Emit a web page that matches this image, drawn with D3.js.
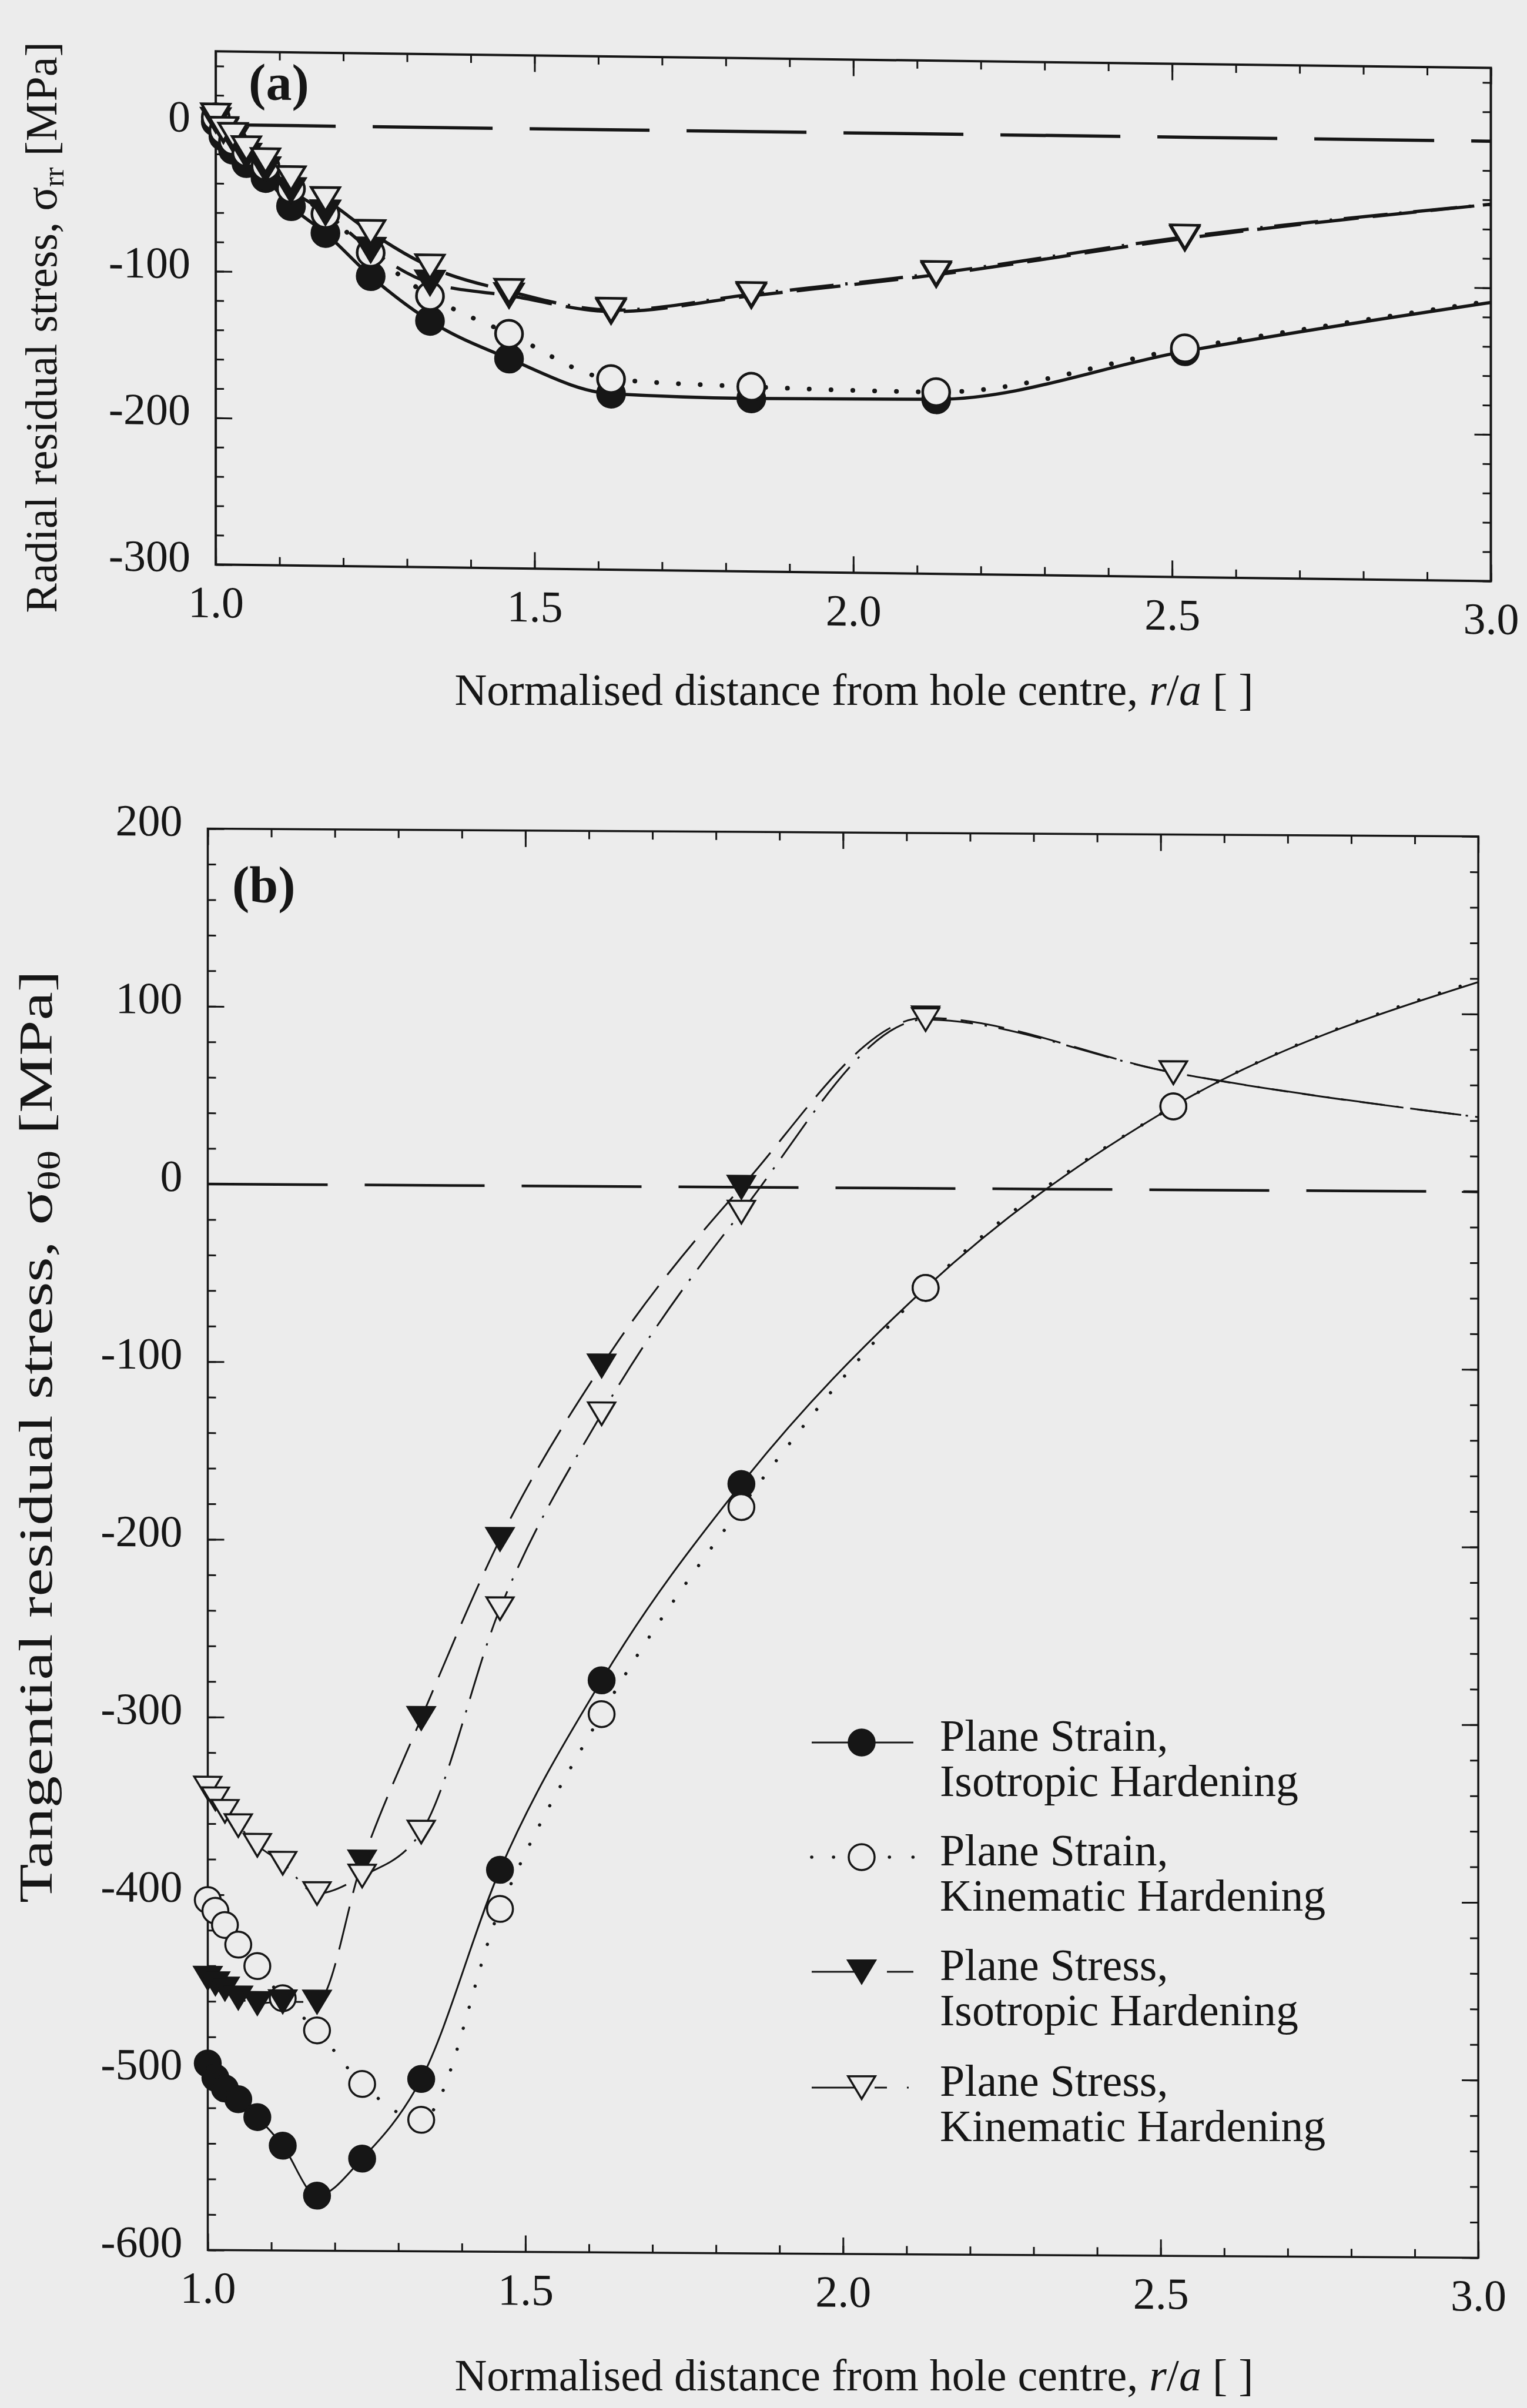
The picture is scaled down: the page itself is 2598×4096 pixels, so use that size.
<!DOCTYPE html>
<html>
<head>
<meta charset="utf-8">
<script src="https://cdn.jsdelivr.net/npm/d3@7"></script>
<style>
  html, body { margin: 0; padding: 0; background: #ececec; }
  svg { display: block; }
  text { font-family: "Liberation Serif", "Times New Roman", serif; fill: #161616; }
</style>
</head>
<body>
<script>
// Normalised radial position of each mesh node, r/a
const rNodes = [1.0, 1.012, 1.027, 1.048, 1.078, 1.118, 1.172, 1.243, 1.336, 1.46, 1.62, 1.84, 2.13, 2.52, 3.0];

// (a) radial residual stress, MPa
const radialStrainIso = [2, -8, -17, -26, -36, -55, -73, -102, -132, -157, -180, -182, -181, -146, -110];
const radialStrainKin = [5, -4, -11, -19, -28, -43, -60, -86, -115, -140, -170, -174, -176, -144, -109];
const radialStressIso = [3, -4, -10, -21, -30, -44, -59, -84, -106, -114, -124, -112, -96, -69, -43];
const radialStressKin = [6, -3, -7, -16, -24, -36, -50, -72, -95, -111, -123, -111, -95, -68, -43];

// (b) tangential residual stress, MPa
const tangStrainIso = [-495, -503, -509, -515, -525, -541, -569, -548, -503, -385, -278, -167, -56, 47, 118];
const tangStrainKin = [-403, -409, -417, -428, -440, -458, -476, -506, -526, -407, -297, -180, -56, 47, 119];
const tangStressIso = [-447, -450, -453, -458, -461, -460, -460, -381, -300, -199, -101, 0, 96, 66, 42];
const tangStressKin = [-340, -346, -353, -361, -372, -382, -399, -389, -364, -238, -128, -14, 95, 66, 42];

// Axis ranges and tick labels
const xDomain = [1, 3];
const xTickLabels = [1.0, 1.5, 2.0, 2.5, 3.0];
const radialDomain = [-300, 50];
const radialTickLabels = [0, -100, -200, -300];
const tangDomain = [-600, 200];
const tangTickLabels = [200, 100, 0, -100, -200, -300, -400, -500, -600];

// Legend entries
const seriesNames = [
  ["Plane Strain,", "Isotropic Hardening"],
  ["Plane Strain,", "Kinematic Hardening"],
  ["Plane Stress,", "Isotropic Hardening"],
  ["Plane Stress,", "Kinematic Hardening"]
];

const W = 2598, H = 4096;
const INK = "#161616", PAPER = "#ececec";

const svg = d3.select("body").append("svg")
  .attr("width", W).attr("height", H)
  .attr("viewBox", `0 0 ${W} ${H}`);
svg.append("rect").attr("width", W).attr("height", H).attr("fill", PAPER);

// Line and marker styles for the four analyses
function styles(lw, dot) {
  return [
    { dash: null, cap: "butt", marker: "circle", fill: INK, lw },
    { dash: "0.1,37", cap: "round", marker: "circle", fill: PAPER, lw: dot },
    { dash: "75,24", cap: "butt", marker: "tri", fill: INK, lw },
    { dash: "75,20,4,20", cap: "butt", marker: "tri", fill: PAPER, lw }
  ];
}
// Short legend samples use their own dash layout around the marker
const legendDash = [null, "0.1,37,0.1,95,0.1,40", "85,43,50", "82,25,21,34,3,40"];

const triPath = (w, h) => `M${-w / 2},${-h / 2}L${w / 2},${-h / 2}L0,${h / 2}Z`;

function drawMarker(sel, type, fill, sw, size) {
  if (type === "circle") {
    sel.append("circle").attr("r", size)
      .attr("fill", fill).attr("stroke", INK).attr("stroke-width", sw);
  } else {
    sel.append("path").attr("d", triPath(size * 2.1, size * 1.75))
      .attr("fill", fill).attr("stroke", INK).attr("stroke-width", sw)
      .attr("stroke-linejoin", "miter");
  }
}

function drawPanel(cfg) {
  const g = svg.append("g")
    .attr("transform", `translate(${cfg.left},${cfg.top}) skewY(${cfg.skew})`);
  const x = d3.scaleLinear().domain(xDomain).range([0, cfg.width]);
  const y = d3.scaleLinear().domain(cfg.yDomain).range([cfg.height, 0]);

  // Inward ticks on all four sides
  const xMinor = x.ticks(20);
  const xMajor = xTickLabels;
  const yMinor = d3.range(cfg.yDomain[0], cfg.yDomain[1] + 1, 20);
  const yMajor = cfg.yLabels;
  const tickGroups = [
    [d3.axisBottom(x).tickValues(xMinor).tickSize(-14), `translate(0,${cfg.height})`],
    [d3.axisTop(x).tickValues(xMinor).tickSize(-14), null],
    [d3.axisLeft(y).tickValues(yMinor).tickSize(-14), null],
    [d3.axisRight(y).tickValues(yMinor).tickSize(-14), `translate(${cfg.width},0)`],
    [d3.axisTop(x).tickValues(xMajor).tickSize(-28), null],
    [d3.axisRight(y).tickValues(yMajor).tickSize(-28), `translate(${cfg.width},0)`]
  ];
  tickGroups.forEach(([ax, tr]) => {
    const a = g.append("g").call(ax.tickFormat(""));
    if (tr) a.attr("transform", tr);
    a.select(".domain").remove();
    a.selectAll("line").attr("stroke", INK).attr("stroke-width", 3);
  });

  // Labelled major ticks
  const bx = g.append("g").attr("transform", `translate(0,${cfg.height})`)
    .call(d3.axisBottom(x).tickValues(xMajor).tickSize(-28).tickFormat(d3.format(".1f")));
  const ly = g.append("g")
    .call(d3.axisLeft(y).tickValues(yMajor).tickSize(-28).tickFormat(d => String(d)));
  [bx, ly].forEach(a => {
    a.select(".domain").remove();
    a.selectAll("line").attr("stroke", INK).attr("stroke-width", 3);
    a.selectAll("text").attr("fill", INK).attr("font-size", 76)
      .attr("font-family", "Liberation Serif, Times New Roman, serif");
  });
  bx.selectAll("text").attr("y", 90).attr("dy", null);
  ly.selectAll("text").attr("x", -43).attr("y", 12).attr("dy", null);

  // Frame
  g.append("rect").attr("width", cfg.width).attr("height", cfg.height)
    .attr("fill", "none").attr("stroke", INK).attr("stroke-width", cfg.frameW);

  // Zero reference line
  g.append("line")
    .attr("x1", x(xDomain[0])).attr("x2", x(xDomain[1]))
    .attr("y1", y(0)).attr("y2", y(0))
    .attr("stroke", INK).attr("stroke-width", cfg.zeroW)
    .attr("stroke-dasharray", "204,63");

  const st = styles(cfg.lw, cfg.dotW);
  const line = d3.line().x(d => x(d.r)).y(d => y(d.v)).curve(d3.curveMonotoneX);
  const series = cfg.series.map((vals, i) => ({
    pts: rNodes.map((r, k) => ({ r, v: vals[k] })),
    style: st[i]
  }));

  series.forEach(s => {
    g.append("path").datum(s.pts).attr("d", line)
      .attr("fill", "none").attr("stroke", INK)
      .attr("stroke-width", s.style.lw)
      .attr("stroke-dasharray", s.style.dash)
      .attr("stroke-linecap", s.style.cap);
  });
  series.forEach(s => {
    g.append("g").selectAll("g")
      .data(s.pts.filter(p => p.r < xDomain[1]))
      .join("g")
      .attr("transform", p => `translate(${x(p.r)},${y(p.v)})`)
      .each(function () { drawMarker(d3.select(this), s.style.marker, s.style.fill, cfg.mw, cfg.ms); });
  });

  // Panel tag
  g.append("text").attr("x", cfg.tagX).attr("y", cfg.tagY)
    .attr("font-size", 88).attr("font-weight", "bold").text(cfg.tag);
  return g;
}

drawPanel({
  left: 367.1, top: 87.3, width: 2169.4, height: 872.9, skew: 0.746,
  yDomain: radialDomain, yLabels: radialTickLabels,
  series: [radialStrainIso, radialStrainKin, radialStressIso, radialStressKin],
  lw: 5.5, dotW: 8, mw: 4.5, ms: 23, zeroW: 5.5, frameW: 4,
  tag: "(a)", tagX: 56, tagY: 81
});

drawPanel({
  left: 353.5, top: 1409.5, width: 2161.6, height: 2417.8, skew: 0.35,
  yDomain: tangDomain, yLabels: tangTickLabels,
  series: [tangStrainIso, tangStrainKin, tangStressIso, tangStressKin],
  lw: 3, dotW: 5.5, mw: 3.5, ms: 22, zeroW: 4.5, frameW: 3.5,
  tag: "(b)", tagX: 41.5, tagY: 124.5
});

// Axis titles
function yTitle(cx, cy, main, sub, fs, len) {
  const t = svg.append("text")
    .attr("transform", `translate(${cx},${cy}) rotate(-90)`)
    .attr("text-anchor", "middle").attr("font-size", fs);
  if (len) t.attr("textLength", len).attr("lengthAdjust", "spacingAndGlyphs");
  t.append("tspan").text(main + " \u03c3");
  t.append("tspan").attr("font-size", fs * 0.66).attr("dy", fs * 0.16).text(sub);
  t.append("tspan").attr("dy", -fs * 0.16).text(" [MPa]");
}
yTitle(96, 557, "Radial residual stress,", "rr", 76, null);
yTitle(88, 2444, "Tangential residual stress,", "\u03b8\u03b8", 80, 1586);

function xTitle(cx, by) {
  const t = svg.append("text").attr("x", cx).attr("y", by)
    .attr("text-anchor", "middle").attr("font-size", 76);
  t.append("tspan").text("Normalised distance from hole centre, ");
  t.append("tspan").attr("font-style", "italic").text("r");
  t.append("tspan").text("/");
  t.append("tspan").attr("font-style", "italic").text("a");
  t.append("tspan").text(" [ ]");
}
xTitle(1453, 1199);
xTitle(1453, 4066);

// Legend
const legBase = [2978, 3173, 3368, 3565];
const legStyles = styles(3, 5.5);
const lg = svg.append("g");
seriesNames.forEach((nm, i) => {
  const cy = legBase[i] - 14;
  const s = legStyles[i];
  lg.append("line").attr("x1", 1381).attr("x2", 1554).attr("y1", cy).attr("y2", cy)
    .attr("stroke", INK).attr("stroke-width", s.lw)
    .attr("stroke-dasharray", legendDash[i]).attr("stroke-linecap", s.cap);
  const m = lg.append("g").attr("transform", `translate(1466,${cy})`);
  drawMarker(m, s.marker, s.fill, 3.5, 22);
  lg.append("text").attr("x", 1599).attr("y", legBase[i]).attr("font-size", 76).text(nm[0]);
  lg.append("text").attr("x", 1599).attr("y", legBase[i] + 77).attr("font-size", 76).text(nm[1]);
});
</script>
</body>
</html>
